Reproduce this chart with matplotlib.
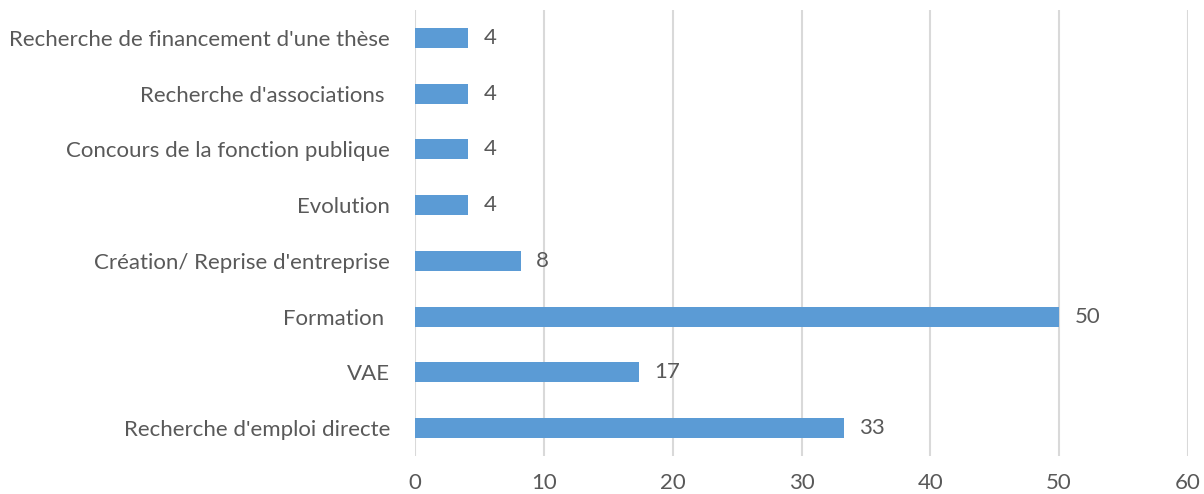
import matplotlib
matplotlib.use("Agg")
import matplotlib.pyplot as plt
import numpy as np

# ----------------- Data (top to bottom in the chart) -----------------
categories = [
    "Recherche de financement d'une thèse",
    "Recherche d'associations ",
    "Concours de la fonction publique",
    "Evolution",
    "Création/ Reprise d'entreprise",
    "Formation ",
    "VAE",
    "Recherche d'emploi directe",
]
values = [4.1, 4.1, 4.1, 4.1, 8.2, 50.0, 17.4, 33.3]
xticks = [0, 10, 20, 30, 40, 50, 60]

BAR_COLOR = "#5B9BD5"
TEXT_COLOR = "#595959"
GRID_COLOR = "#D9D9D9"

plt.rcParams['font.family'] = ['Lato', 'DejaVu Sans']
FS = 16

fig = plt.figure(figsize=(12.04, 4.94), dpi=100)
ax = fig.add_axes([0.3447, 0.0769, 0.642, 0.903])

y = np.arange(len(categories))
ax.barh(y, values, height=0.36, color=BAR_COLOR, zorder=3)

for yi, v in zip(y, values):
    ax.text(v + 1.2, yi, f"{v:.0f}", va='center', ha='left',
            fontsize=FS, color=TEXT_COLOR)

ax.set_xlim(0, 60)
ax.set_ylim(len(categories) - 0.5, -0.5)
ax.set_yticks(y)
ax.set_yticklabels(categories, fontsize=FS, color=TEXT_COLOR)
ax.set_xticks(xticks)
ax.set_xticklabels([str(t) for t in xticks], fontsize=FS, color=TEXT_COLOR)
ax.tick_params(axis='both', length=0)
ax.tick_params(axis='y', pad=18)
ax.tick_params(axis='x', pad=12)

ax.grid(axis='x', color=GRID_COLOR, linewidth=1.5, zorder=0)
for s in ax.spines.values():
    s.set_visible(False)

fig.savefig("out.png", dpi=100)
